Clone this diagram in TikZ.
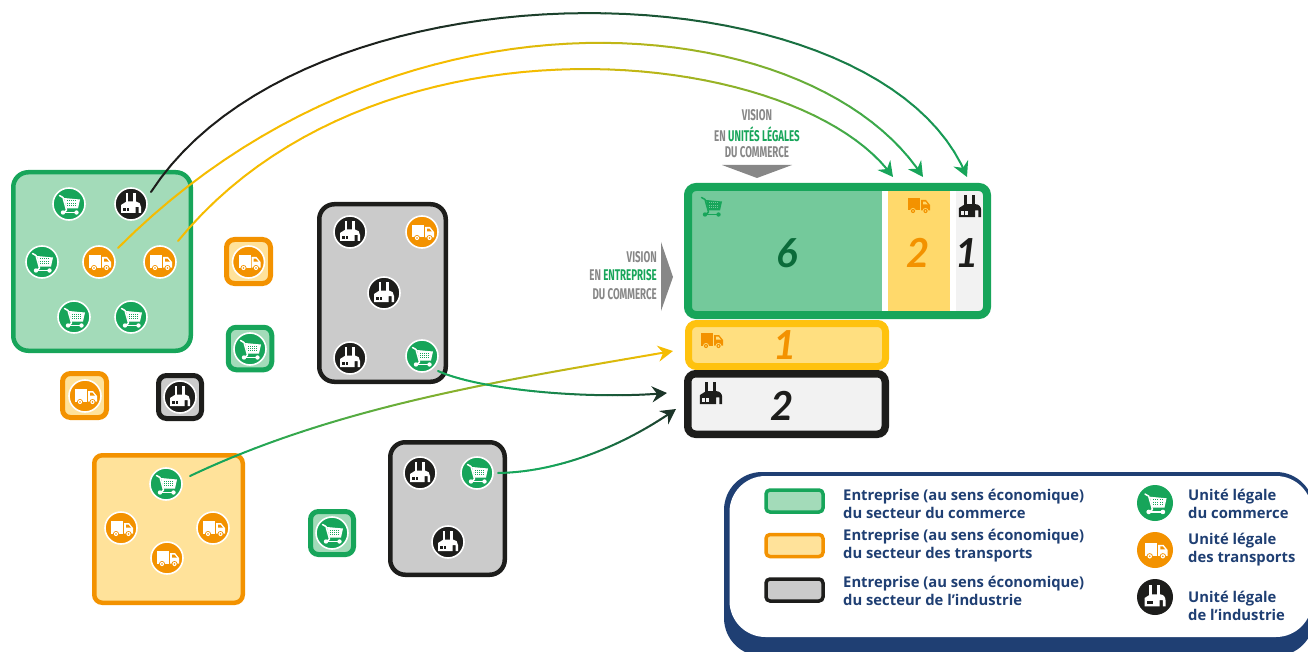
\documentclass[tikz,border=0pt]{standalone}
\usepackage{fontspec}
\usetikzlibrary{arrows.meta}
\setmainfont{Open Sans}
\newfontfamily\cond[FakeStretch=0.63]{Fira Sans Bold}
\newfontfamily\numf{Lato}[ItalicFont=* Bold Italic,BoldItalicFont=* Bold Italic]
\newfontfamily\legf{Open Sans Bold}
\definecolor{cgreen}{HTML}{17A55A}
\definecolor{lgreen}{HTML}{A3DBB9}
\definecolor{mgreen}{HTML}{74C99B}
\definecolor{dgreen}{HTML}{0B6B3A}
\definecolor{corange}{HTML}{F39200}
\definecolor{lorange}{HTML}{FFE29A}
\definecolor{cyellow}{HTML}{FFC20E}
\definecolor{myellow}{HTML}{FFD96B}
\definecolor{byellow}{HTML}{FFDF80}
\definecolor{lineyellow}{HTML}{F5BC00}
\definecolor{cblack}{HTML}{1D1D1B}
\definecolor{tipdark}{HTML}{1C3529}
\definecolor{cgrey}{HTML}{CBCBCB}
\definecolor{pgrey}{HTML}{F2F2F2}
\definecolor{vgrey}{HTML}{878787}
\definecolor{navy}{HTML}{1F3F73}
\tikzset{
 x=1pt,y=-1pt,
 ent/.style={rectangle,inner sep=0pt,outer sep=0pt,line width=4.5pt},
 entgreen/.style={ent,draw=cgreen,fill=lgreen},
 entorange/.style={ent,draw=corange,fill=lorange},
 entgrey/.style={ent,draw=cblack,fill=cgrey},
 bigr/.style={rounded corners=15pt},
 smallr/.style={rounded corners=8pt,line width=5pt},
 swatch/.style={rounded corners=4pt,line width=3.5pt,minimum width=57pt,minimum height=22pt},
 dot/.style={circle,inner sep=0pt,outer sep=0pt,minimum size=32pt,draw=white,line width=1.6pt},
 legdot/.style={circle,inner sep=0pt,outer sep=0pt,minimum size=36pt},
 vis/.style={font=\cond\fontsize{15.5}{18.5}\selectfont,text=vgrey,inner sep=0pt},
 num/.style={font=\numf\itshape\fontsize{40}{40}\selectfont,inner sep=0pt},
 leg/.style={font=\legf\fontsize{14.8}{18}\selectfont,text=navy,align=left,anchor=west,inner sep=0pt},
 pics/truckg/.style 2 args={code={
  \fill[#1] (-10,-7) rectangle (2,5.5);
  \fill[#1] (3,-5)--(8,-5)--(12,0)--(12,5.5)--(3,5.5)--cycle;
  \fill[#2] (5,-3.4)--(7.4,-3.4)--(9.8,-.5)--(5,-.5)--cycle;
  \foreach \wx in {-5,7.5}{
   \fill[#2] (\wx,6) circle[radius=3];
   \fill[#1] (\wx,6) circle[radius=2.1];
   \fill[#2] (\wx,6) circle[radius=.8];}
 }},
 pics/cartg/.style 2 args={code={
  \draw[#1,line width=1.5pt,line cap=round,line join=round] (-9.5,-8.5)--(-6,-6.5)--(-2.5,6)--(-5,8.5);
  \fill[#1] (-5,-6)--(11,-4.5)--(9,4.5)--(-2.5,4.5)--cycle;
  \foreach \dy in {-3,-.8,1.4}{\foreach \dx in {-1.5,.6,2.7,4.8,6.9}{
    \fill[#2] (\dx-.5,\dy-.5) rectangle (\dx+.5,\dy+.5);}}
  \draw[#1,line width=1.5pt] (-6,8.5)--(7.5,8.5);
  \fill[#1] (-6,8.5) circle[radius=2.2];
  \fill[#1] (7.5,8.5) circle[radius=2.2];
 }},
 pics/factg/.style 2 args={code={
  \fill[#1] (-5.5,-11) rectangle (-2.7,-1);
  \fill[#1] (1.7,-11) rectangle (4.5,-1);
  \fill[#1] (-10,9)--(-10,1)--(-4.5,-2.5)--(5,-2.5) .. controls (8,-2.5) and (10,0) .. (10,3)--(10,9)--(7.5,9)--(7.5,3)--(4.5,3)--(4.5,9)--cycle;
  \fill[#2] (-8,4) rectangle (-5.2,7);
  \fill[#2] (-4.4,4) rectangle (-1.6,7);
 }},
}
% connector with a colour gradient; #1 start, #2 #3 controls, #4 end, #5 #6 colours, #7 steps of 50 before the colour starts to change
\newcommand\gradcurve[7]{%
 \path (#1) .. controls (#2) and (#3) .. (#4)
   node foreach \gi in {0,...,50} [coordinate,pos=\gi/50] (g#1\gi) {};
 \foreach \gi in {1,...,50}{%
  \pgfmathtruncatemacro\gj{\gi-1}%
  \pgfmathtruncatemacro\gp{100*(1-max(0,(\gi-#7)/(50-#7)))}%
  \ifnum\gi<50\relax
   \draw[color=#5!\gp!#6,line width=2pt,line cap=round] (g#1\gj) -- (g#1\gi);
  \else
   \draw[color=#6,line width=2pt,-{Stealth[length=15pt,width=16pt,inset=5pt]}] (g#1\gj) -- (g#1\gi);
  \fi}%
}
\newcommand\cartn[3]{\node[dot,fill=cgreen] (#1) at (#2,#3) {}; \pic at (#1.center) {cartg={white}{cgreen}};}
\newcommand\truckn[3]{\node[dot,fill=corange] (#1) at (#2,#3) {}; \pic at (#1.center) {truckg={white}{corange}};}
\newcommand\factn[3]{\node[dot,fill=cblack] (#1) at (#2,#3) {}; \pic at (#1.center) {factg={white}{cblack}};}
\begin{document}
\begin{tikzpicture}
\useasboundingbox (0,0) rectangle (1308,652);
% enterprise boxes
\node[entgreen,bigr,minimum width=177.5pt,minimum height=178.5pt] (A) at (102,261.5) {};
\node[entorange,smallr,minimum width=44pt,minimum height=44pt] (o1) at (248.5,261.5) {};
\node[entgreen,smallr,minimum width=43.5pt,minimum height=42.5pt] (g1) at (250,348.5) {};
\node[entorange,smallr,minimum width=44pt,minimum height=44pt] (o2) at (84.5,395.5) {};
\node[entgrey,smallr,minimum width=43pt,minimum height=43pt] (k1) at (180,397) {};
\node[entgreen,smallr,minimum width=43pt,minimum height=43pt] (g2) at (332,533) {};
\node[entgrey,bigr,minimum width=126.5pt,minimum height=177.5pt] (B) at (382.5,293) {};
\node[entgrey,bigr,minimum width=114.5pt,minimum height=132.5pt] (C) at (447.5,508.5) {};
\node[entorange,rounded corners=8pt,minimum width=148.5pt,minimum height=147.5pt] (D) at (168.5,529) {};
% result panel
\fill[mgreen] (688,187) rectangle (882,315);
\fill[myellow] (888,187) rectangle (950,315);
\fill[pgrey] (956,187) rectangle (987,315);
\node[rectangle,draw=cgreen,line width=8pt,rounded corners=8pt,minimum width=299pt,minimum height=128pt,inner sep=0pt,outer sep=0pt] (P) at (837.5,251) {};
\node[rectangle,draw=cyellow,fill=byellow,line width=7pt,rounded corners=8pt,minimum width=197pt,minimum height=43pt,inner sep=0pt,outer sep=0pt] (Q) at (787,345) {};
\node[rectangle,draw=cblack,fill=pgrey,line width=7.5pt,rounded corners=8pt,minimum width=197.5pt,minimum height=60.5pt,inner sep=0pt,outer sep=0pt] (R) at (786.5,404) {};
\node[num,text=dgreen] (n6) at (787,253) {6};
\node[num,text=corange] (n2) at (918,253) {2};
\node[num,text=cblack] (n1) at (967,253) {1};
\node[num,text=corange] (m1) at (785,345) {1};
\node[num,text=cblack] (m2) at (782,406) {2};
\pic at (711,206) {cartg={cgreen}{mgreen}};
\pic at (918,205) {truckg={corange}{myellow}};
\pic[scale=1.12] at (970,207) {factg={cblack}{pgrey}};
\pic at (711,340) {truckg={corange}{byellow}};
\pic[scale=1.12] at (711,394) {factg={cblack}{pgrey}};
% vision labels
\node[vis] (v1) at (757,115) {VISION};
\node[vis] (v2) at (757,134) {EN \textcolor{cgreen}{UNITÉS LÉGALES}};
\node[vis] (v3) at (757,152) {DU COMMERCE};
\fill[vgrey] (722,165)--(792,165)--(757,178)--cycle;
\node[vis,anchor=east] (w1) at (657,257) {VISION};
\node[vis,anchor=east] (w2) at (657,275.5) {EN \textcolor{cgreen}{ENTREPRISE}};
\node[vis,anchor=east] (w3) at (657,294) {DU COMMERCE};
\fill[vgrey] (661,242)--(661,311)--(673,277)--cycle;
% connector ends
\coordinate (sa) at (151,192); \coordinate (sb) at (118,248); \coordinate (sc) at (178,241);
\coordinate (sd) at (190,476); \coordinate (se) at (438,371); \coordinate (sf) at (498,473);
\coordinate (ea) at (967,177); \coordinate (eb) at (923,177); \coordinate (ec) at (893,177);
\coordinate (ed) at (673,351); \coordinate (ee) at (667,393); \coordinate (ef) at (676,409);
\gradcurve{sa}{307,-48}{880,-40}{ea}{cblack}{cgreen}{14}
\gradcurve{sb}{400,-35}{815,8}{eb}{lineyellow}{cgreen}{20}
\gradcurve{sc}{375,0}{800,45}{ec}{lineyellow}{cgreen}{23}
\gradcurve{sd}{342,404}{512,379}{ed}{cgreen}{lineyellow}{6}
\gradcurve{se}{480,390}{590,400}{ee}{cgreen}{tipdark}{20}
\gradcurve{sf}{560,472}{625,445}{ef}{cgreen}{tipdark}{15}
% units
\cartn{a1}{69}{204} \factn{a2}{131}{204} \cartn{a3}{42}{262} \truckn{a4}{99}{262} \truckn{a5}{160}{262} \cartn{a6}{74}{317} \cartn{a7}{131}{317}
\truckn{b1}{248.5}{262} \cartn{b2}{250}{349} \truckn{b3}{85}{396} \factn{b4}{180}{397} \cartn{b5}{332}{533}
\factn{c1}{350}{232} \truckn{c2}{422}{232} \factn{c3}{384}{293} \factn{c4}{350}{358} \cartn{c5}{422}{356}
\factn{d1}{420}{473} \cartn{d2}{477}{473} \factn{d3}{448}{542}
\cartn{e1}{166}{484} \truckn{e2}{121}{528} \truckn{e3}{213}{528} \truckn{e4}{167}{558}
% legend
\begin{scope}
\clip (0,0) rectangle (1308,652);
\fill[navy,rounded corners=38pt] (724,472) rectangle (1314,656);
\fill[white,rounded corners=36pt] (729.5,476) rectangle (1312,637);
\end{scope}
\node[entgreen,swatch] (s1) at (794.5,501) {};
\node[entorange,swatch] (s2) at (794.5,545.5) {};
\node[entgrey,swatch] (s3) at (794.5,590) {};
\node[leg] (t1) at (843,503.5) {Entreprise (au sens économique)\\du secteur du commerce};
\node[leg] (t2) at (843,546) {Entreprise (au sens économique)\\du secteur des transports};
\node[leg] (t3) at (843,591) {Entreprise (au sens économique)\\du secteur de l’industrie};
\node[legdot,fill=cgreen] (l1) at (1155,503) {}; \pic[scale=1.05] at (l1.center) {cartg={white}{cgreen}};
\node[legdot,fill=corange] (l2) at (1155,550) {}; \pic[scale=1.05] at (l2.center) {truckg={white}{corange}};
\node[legdot,fill=cblack] (l3) at (1155,597) {}; \pic[scale=1.05] at (l3.center) {factg={white}{cblack}};
\node[leg] (u1) at (1188,503.5) {Unité légale\\du commerce};
\node[leg] (u2) at (1188,549.5) {Unité légale\\des transports};
\node[leg] (u3) at (1188,605.5) {Unité légale\\de l’industrie};
\end{tikzpicture}
\end{document}
